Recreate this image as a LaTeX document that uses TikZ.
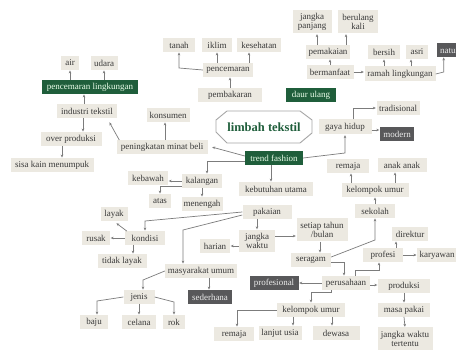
\documentclass[tikz,border=0pt]{standalone}
\usepackage{fontspec}
\setmainfont{Liberation Serif}
\usetikzlibrary{arrows.meta}
\definecolor{boxc}{HTML}{ECE9E1}
\definecolor{grn}{HTML}{1F5E3B}
\definecolor{gry}{HTML}{58585A}
\definecolor{linec}{HTML}{7C7C7C}
\definecolor{txt}{HTML}{3A3A3A}
\begin{document}
\begin{tikzpicture}[x=1pt,y=-1pt,
 bx/.style={fill=boxc, text=txt, inner xsep=2pt, inner ysep=1pt, minimum height=13.5pt, font=\fontsize{9}{9.5}\selectfont, align=center},
 gn/.style={bx, fill=grn, text=green!8!white},
 gy/.style={bx, fill=gry, text=white!85!gray},
 ar/.style={draw=linec, line width=0.7pt, -{Stealth[length=3pt,width=2.6pt]}, shorten >=0.5pt},
 oct/.style={draw=gray!70, line width=0.9pt}]
\fill[white] (0,0) rectangle (456,350);
\useasboundingbox (0,0) rectangle (456,350);
% nodes
\node[bx,minimum width=18] (air) at (70,63) {air};
\node[bx,minimum width=27] (udara) at (104,63) {udara};
\node[gn,minimum width=96] (pl) at (90,87) {pencemaran lingkungan};
\node[bx,minimum width=60] (it) at (87,111) {industri tekstil};
\node[bx,minimum width=61] (op) at (71,139) {over produksi};
\node[bx,minimum width=83] (sk) at (52,165) {sisa kain menumpuk};
\node[bx,minimum width=43] (kon) at (168,115) {konsumen};
\node[bx,minimum width=91] (pmb) at (162,147) {peningkatan minat beli};
\node[bx,minimum width=32] (tan) at (179,45) {tanah};
\node[bx,minimum width=30] (ikl) at (217,45) {iklim};
\node[bx,minimum width=44] (kes) at (259,45) {kesehatan};
\node[bx,minimum width=50] (pen) at (228,70) {pencemaran};
\node[bx,minimum width=64] (pem) at (230,95) {pembakaran};
\node[bx,minimum width=39,minimum height=23] (jp) at (312,22) {jangka\\panjang};
\node[bx,minimum width=40,minimum height=23] (bk) at (358,22) {berulang\\kali};
\node[bx,minimum width=44] (pk) at (328,52) {pemakaian};
\node[bx,minimum width=32] (bs) at (384,52) {bersih};
\node[bx,minimum width=22] (asri) at (417,52) {asri};
\node[gy,inner xsep=3pt,anchor=west] (nat) at (437,50) {natural};
\node[bx,minimum width=47] (bm) at (330,72) {bermanfaat};
\node[bx,minimum width=71,minimum height=15] (rl) at (400,74) {ramah lingkungan};
\node[gn,minimum width=50] (du) at (311,95) {daur ulang};
\node[bx,minimum width=43] (trad) at (398,108) {tradisional};
\node[bx,minimum width=53,minimum height=15] (gh) at (345,127) {gaya hidup};
\node[gy,minimum width=34] (mod) at (397,134) {modern};
\node[font=\fontsize{12.5}{13}\selectfont\bfseries, text=grn] (lt) at (264,127) {limbah tekstil};
\draw[oct] (lt.center) ++(-37,-16) -- ++(73,0) -- ++(12,9) -- ++(0,13) -- ++(-12,10) -- ++(-73,0) -- ++(-11,-11) -- ++(0,-12) -- cycle;
\node[gn,minimum width=58] (tf) at (274,158) {trend fashion};
\node[bx,minimum width=40] (keb) at (148,178) {kebawah};
\node[bx,minimum width=40] (kal) at (202,181) {kalangan};
\node[bx,minimum width=22] (atas) at (160,201) {atas};
\node[bx,minimum width=41] (men) at (202,204) {menengah};
\node[bx,minimum width=74] (ku) at (276,189) {kebutuhan utama};
\node[bx,minimum width=42] (rem1) at (348,166) {remaja};
\node[bx,minimum width=49] (anak) at (402,165) {anak anak};
\node[bx,minimum width=67] (ku1) at (375,190) {kelompok umur};
\node[bx,minimum width=49] (pak) at (267,212) {pakaian};
\node[bx,minimum width=40] (sek) at (375,211) {sekolah};
\node[bx,minimum width=27] (lay) at (114,214) {layak};
\node[bx,minimum width=40] (kond) at (145,238) {kondisi};
\node[bx,minimum width=28] (rus) at (96,238) {rusak};
\node[bx,minimum width=49] (tl) at (122,261) {tidak layak};
\node[bx,minimum width=36,minimum height=22] (jw) at (257,241) {jangka\\waktu};
\node[bx,minimum width=30] (har) at (215,246) {harian};
\node[bx,minimum width=51,minimum height=23] (st) at (322,230) {setiap tahun\\/bulan};
\node[bx,minimum width=40] (ser) at (311,260) {seragam};
\node[bx,minimum width=36] (dir) at (410,234) {direktur};
\node[bx,minimum width=40] (pro) at (383,255) {profesi};
\node[bx,minimum width=40,anchor=west] (kar) at (417,255) {karyawan};
\node[bx,minimum width=72] (mu) at (201,271) {masyarakat umum};
\node[gy,minimum width=44] (sed) at (210,297) {sederhana};
\node[gy,minimum width=49] (prof) at (274,283) {profesional};
\node[bx,minimum width=48] (per) at (346,283) {perusahaan};
\node[bx,minimum width=52] (prod) at (404,286) {produksi};
\node[bx,minimum width=31] (jen) at (139,297) {jenis};
\node[bx,minimum width=28] (baju) at (94,322) {baju};
\node[bx,minimum width=34] (cel) at (139,322) {celana};
\node[bx,minimum width=22] (rok) at (174,322) {rok};
\node[bx,minimum width=68] (ku2) at (311,310) {kelompok umur};
\node[bx,minimum width=52] (mp) at (404,310) {masa pakai};
\node[bx,minimum width=40] (rem2) at (234,334) {remaja};
\node[bx,minimum width=43] (lu) at (280,333) {lanjut usia};
\node[bx,minimum width=47] (dew) at (336,333) {dewasa};
\node[bx,minimum width=55,minimum height=23] (jwt) at (405,339) {jangka waktu\\tertentu};
% connectors
\draw[ar] (pl.north -| air.center) -- (air.south);
\draw[ar] (pl.north -| udara.center) -- (udara.south);
\draw[ar] ([xshift=-3pt]it.north) -- ([xshift=-3pt]it.north |- pl.south);
\draw[ar] ([xshift=-4pt]it.south) -- ([xshift=-4pt]it.south |- op.north);
\draw[ar] ([xshift=-9pt]op.south) -- ([xshift=-9pt]op.south |- sk.north);
\draw[ar] ([xshift=3pt]pmb.north west) -- ([xshift=-8pt,yshift=-4pt]it.south east);
\draw[ar] ([xshift=3pt]pmb.north) -- ([xshift=3pt]pmb.north |- kon.south);
\draw[ar] ([yshift=2pt]tf.west) -- ([xshift=4pt]pmb.east);
\draw[ar] ([yshift=-3pt]tf.west) -| ([xshift=5pt]kal.north);
\draw[ar] ([xshift=-3pt]tf.south) -- ([xshift=-3pt]tf.south |- ku.north);
\draw[ar] (tf.east) -- (gh.south |- 0,153) -- (gh.south);
\draw[ar] ([xshift=8pt]gh.north) |- (trad.west);
\draw[ar] ([yshift=-3pt]gh.east) -- ([yshift=-3pt]gh.east -| mod.west);
\draw[ar] (kal.west) -- (kal.west -| keb.east);
\draw[ar] ([yshift=2pt]kal.south west) -- ([yshift=2pt]kal.south west -| atas.north) -- (atas.north);
\draw[ar] (kal.south) -- (men.north);
\draw[ar] (pak.west) -- (kond.north |- 0,221) -- (kond.north);
\draw[ar] ([yshift=-3pt]pak.west) -- ([xshift=-18pt]mu.north |- 0,230) -- ([xshift=-18pt]mu.north);
\draw[ar] (jw.north |- pak.south) -- (jw.north);
\draw[ar] (jw.west |- har.east) -- (har.east);
\draw[ar] ([yshift=5pt]jw.east) -- ([yshift=5pt]jw.east -| st.west);
\draw[ar] ([xshift=-2pt]st.south) -- ([xshift=-2pt]st.south |- ser.north);
\draw[ar] ([yshift=3pt]ser.east) -- (sek.south |- 0,240) -- (sek.south);
\draw[ar] ([yshift=-2pt]ser.east) -- ([xshift=-2pt]per.north |- 0,262) -- ([xshift=-2pt]per.north);
\draw[ar] (sek.north) -- (ku1.south);
\draw[ar] ([xshift=3pt]rem1.south |- ku1.north) -- ([xshift=3pt]rem1.south);
\draw[ar] ([xshift=-7pt]anak.south |- ku1.north) -- ([xshift=-7pt]anak.south);
\draw[ar] ([xshift=9pt]per.north) -- ++(0,-6) -| ([xshift=-4pt]pro.south);
\draw[ar] ([xshift=13pt]pro.north) -- ([xshift=13pt]pro.north |- dir.south);
\draw[ar] (pro.east) -- (kar.west);
\draw[ar] (per.west) -- (prof.east);
\draw[ar] ([yshift=-2pt]per.east) -- ([yshift=-2pt]per.east -| prod.west);
\draw[ar] ([xshift=-15pt]per.south) -- ++(0,2) -| (ku2.north);
\draw[ar] (ku2.west) -| ([xshift=3pt]rem2.north);
\draw[ar] ([xshift=-18pt]ku2.south) -- ([xshift=-18pt]ku2.south |- lu.north);
\draw[ar] ([xshift=21pt]ku2.south) -- ([xshift=21pt]ku2.south |- dew.north);
\draw[ar] (prod.south) -- (mp.north);
\draw[ar] (mp.south) -- (jwt.north);
\draw[ar] ([xshift=2pt]kond.north west) -- ([xshift=2pt,yshift=-2pt]lay.south);
\draw[ar] (kond.west) -- (rus.east);
\draw[ar] ([xshift=-12pt]kond.south) -- ([xshift=-12pt]kond.south |- tl.north);
\draw[ar] (mu.west) -- ([xshift=4pt]jen.north |- 0,280) -- ([xshift=4pt]jen.north);
\draw[ar] ([xshift=8pt]mu.south) -- ([xshift=8pt]mu.south |- sed.north);
\draw[ar] (jen.west) -- ([xshift=3pt]baju.north |- 0,301) -- ([xshift=3pt]baju.north);
\draw[ar] (jen.south) -- (cel.north);
\draw[ar] (jen.east) -- (rok.north |- 0,302) -- (rok.north);
\draw[ar] (pen.west) -- (tan.south |- 0,68) -- (tan.south);
\draw[ar] (ikl.south |- pen.north) -- (ikl.south);
\draw[ar] ([xshift=-10pt]kes.south |- pen.north) -- ([xshift=-10pt]kes.south);
\draw[ar] (pem.north) -- (pem.north |- pen.south);
\draw[ar] (bm.north) -- (bm.north |- pk.south);
\draw[ar] ([xshift=5pt]jp.south |- pk.north) -- ([xshift=5pt]jp.south);
\draw[ar] ([xshift=-12pt]bk.south |- pk.north) -- ([xshift=-12pt]bk.south);
\draw[ar] (bm.east) -- (bm.east -| rl.west);
\draw[ar] (bs.south |- rl.north) -- (bs.south);
\draw[ar] ([xshift=-6pt]asri.south |- rl.north) -- ([xshift=-6pt]asri.south);
\draw[ar] (rl.east) -- ++(8,-2) coordinate (q) -- (q |- nat.south);
\end{tikzpicture}
\end{document}
